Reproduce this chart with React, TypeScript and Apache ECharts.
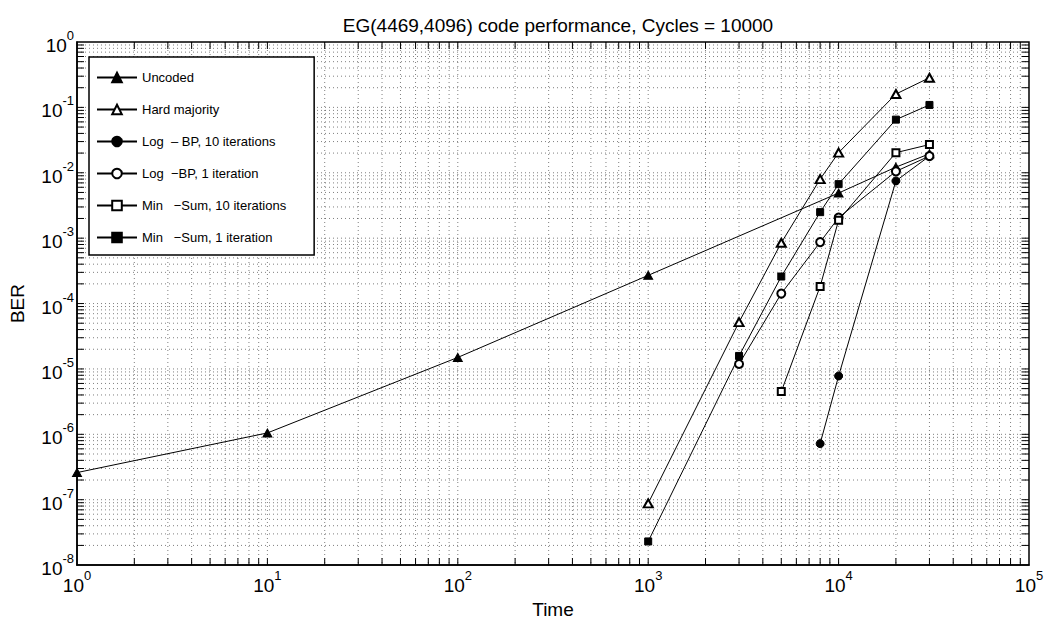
import { useEffect, useRef } from 'react';
import * as echarts from 'echarts';

const FONT = '"Liberation Sans", Arial, Helvetica, sans-serif';

const TITLE = 'EG(4469,4096) code performance, Cycles = 10000';
const X_NAME = 'Time';
const Y_NAME = 'BER';

// axis decades (exponents of 10)
const xExponents = [0, 1, 2, 3, 4, 5];
const yExponents = [-8, -7, -6, -5, -4, -3, -2, -1, 0];
const minorMultipliers = [2, 3, 4, 5, 6, 7, 8, 9];

// series
const uncodedX = [1, 10, 100, 1000, 10000, 20000, 30000];
const uncodedY = [2.6e-7, 1.05e-6, 1.5e-5, 2.7e-4, 4.9e-3, 1.22e-2, 1.95e-2];

const hardX = [1000, 3000, 5000, 8000, 10000, 20000, 30000];
const hardY = [8.8e-8, 5.2e-5, 8.5e-4, 8.0e-3, 2.03e-2, 0.16, 0.284];

const logBp10X = [8000, 10000, 20000, 30000];
const logBp10Y = [7.2e-7, 7.8e-6, 7.5e-3, 1.8e-2];

const logBp1X = [3000, 5000, 8000, 10000, 20000, 30000];
const logBp1Y = [1.19e-5, 1.42e-4, 8.7e-4, 2.06e-3, 1.05e-2, 1.8e-2];

const minSum10X = [5000, 8000, 10000, 20000, 30000];
const minSum10Y = [4.5e-6, 1.83e-4, 1.88e-3, 2.03e-2, 2.7e-2];

const minSum1X = [1000, 3000, 5000, 8000, 10000, 20000, 30000];
const minSum1Y = [2.3e-8, 1.58e-5, 2.59e-4, 2.5e-3, 6.7e-3, 6.5e-2, 0.109];

const seriesNames = [
  'Uncoded',
  'Hard majority',
  'Log  – BP, 10 iterations',
  'Log  −BP, 1 iteration',
  'Min   −Sum, 10 iterations',
  'Min   −Sum, 1 iteration',
];

const zip = (xs: number[], ys: number[]) => xs.map((x, i) => [x, ys[i]]);

function buildGridData() {
  const out: number[][] = [];
  // vertical lines (kind 0)
  for (let i = 0; i < xExponents.length - 1; i++) {
    const base = Math.pow(10, xExponents[i]);
    if (i > 0) out.push([base, 1e-4, 0]);
    for (const k of minorMultipliers) out.push([k * base, 1e-4, 0]);
  }
  // horizontal lines (kind 1)
  for (let i = 0; i < yExponents.length - 1; i++) {
    const base = Math.pow(10, yExponents[i]);
    if (i > 0) out.push([10, base, 1]);
    for (const k of minorMultipliers) out.push([10, k * base, 1]);
  }
  return out;
}

const labelFormatter = (v: number) => {
  const e = Math.round(Math.log10(v));
  return `{b|10}{s|${e}}`;
};

const labelRich = {
  b: { fontSize: 19, lineHeight: 26, verticalAlign: 'bottom', fontFamily: FONT, color: '#000' },
  s: { fontSize: 13, lineHeight: 13, verticalAlign: 'top', fontFamily: FONT, color: '#000' },
};

export default function App() {
  const ref = useRef<HTMLDivElement>(null);
  useEffect(() => {
    document.body.style.margin = '0';
    const chart = echarts.init(ref.current!, null, { renderer: 'svg' });

    const lineSeries = (name: string, data: number[][], symbol: string, size: any) => ({
      name,
      type: 'line',
      data,
      symbol,
      symbolSize: size,
      showAllSymbol: true,
      lineStyle: { color: '#000', width: 1 },
      itemStyle: { color: '#000', borderColor: '#000', borderWidth: 1 },
      z: 3,
    });

    const option: any = {
      animation: false,
      backgroundColor: '#fff',
      textStyle: { fontFamily: FONT },
      title: {
        text: TITLE,
        left: 553,
        textAlign: 'center',
        top: 11,
        textStyle: { fontSize: 19, fontWeight: 'normal', color: '#000', fontFamily: FONT },
      },
      grid: {
        left: 77,
        right: 22,
        top: 42,
        bottom: 40,
        show: true,
        borderColor: '#000',
        borderWidth: 1.5,
        backgroundColor: 'transparent',
      },
      legend: {
        data: seriesNames,
        orient: 'vertical',
        left: 89,
        top: 57,
        padding: [14, 28, 11, 7],
        itemWidth: 40,
        itemHeight: 12,
        itemGap: 19,
        backgroundColor: '#fff',
        borderColor: '#000',
        borderWidth: 1.5,
        textStyle: { fontSize: 13, color: '#000', fontFamily: FONT },
      },
      xAxis: {
        type: 'log',
        logBase: 10,
        min: 1,
        max: 100000,
        splitNumber: 5,
        name: X_NAME,
        nameLocation: 'middle',
        nameGap: 22,
        nameTextStyle: { fontSize: 19, color: '#000', fontFamily: FONT },
        axisLine: { show: true, onZero: false, lineStyle: { color: '#000', width: 1.5 } },
        axisTick: { show: false },
        splitLine: { show: false },
        axisLabel: { formatter: labelFormatter, rich: labelRich, margin: 4, color: '#000' },
      },
      yAxis: {
        type: 'log',
        logBase: 10,
        min: 1e-8,
        max: 1,
        splitNumber: 8,
        name: Y_NAME,
        nameLocation: 'middle',
        nameGap: 50,
        nameTextStyle: { fontSize: 19, color: '#000', fontFamily: FONT },
        axisLine: { show: true, onZero: false, lineStyle: { color: '#000', width: 1.5 } },
        axisTick: { show: false },
        splitLine: { show: false },
        axisLabel: { formatter: labelFormatter, rich: labelRich, margin: 3, color: '#000' },
      },
      series: [
        {
          type: 'custom',
          name: 'grid',
          silent: true,
          clip: false,
          z: 1,
          data: buildGridData(),
          renderItem: (params: any, api: any) => {
            const cs = params.coordSys;
            const kind = api.value(2);
            const p = api.coord([api.value(0), api.value(1)]);
            const dot = { stroke: '#000', lineWidth: 1, lineDash: [1, 3], opacity: 0.5, fill: null };
            const tick = { stroke: '#000', lineWidth: 1, fill: null };
            const L = 7;
            if (kind === 0) {
              const x = p[0];
              const b = cs.y + cs.height;
              return {
                type: 'group',
                children: [
                  { type: 'line', shape: { x1: x, y1: cs.y, x2: x, y2: b }, style: dot },
                  { type: 'line', shape: { x1: x, y1: b, x2: x, y2: b - L }, style: tick },
                  { type: 'line', shape: { x1: x, y1: cs.y, x2: x, y2: cs.y + L }, style: tick },
                ],
              };
            }
            const y = p[1];
            const r = cs.x + cs.width;
            return {
              type: 'group',
              children: [
                { type: 'line', shape: { x1: cs.x, y1: y, x2: r, y2: y }, style: dot },
                { type: 'line', shape: { x1: cs.x, y1: y, x2: cs.x + L, y2: y }, style: tick },
                { type: 'line', shape: { x1: r, y1: y, x2: r - L, y2: y }, style: tick },
              ],
            };
          },
        },
        lineSeries(seriesNames[0], zip(uncodedX, uncodedY), 'triangle', [9, 8]),
        lineSeries(seriesNames[1], zip(hardX, hardY), 'emptyTriangle', [9, 8]),
        lineSeries(seriesNames[2], zip(logBp10X, logBp10Y), 'circle', 8),
        lineSeries(seriesNames[3], zip(logBp1X, logBp1Y), 'emptyCircle', 8),
        lineSeries(seriesNames[4], zip(minSum10X, minSum10Y), 'emptyRect', 7),
        lineSeries(seriesNames[5], zip(minSum1X, minSum1Y), 'rect', 7),
      ],
    };

    chart.setOption(option);
    return () => chart.dispose();
  }, []);
  return <div ref={ref} style={{ width: 1051, height: 624 }} />;
}
